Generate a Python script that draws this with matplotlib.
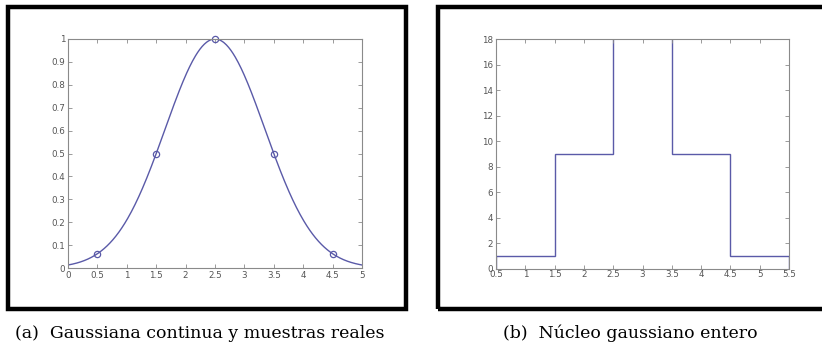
import numpy as np
import matplotlib
matplotlib.use("Agg")
import matplotlib.pyplot as plt
from matplotlib.patches import Rectangle

# (a) samples of the gaussian at the pixel centres
sample_x = [0.5, 1.5, 2.5, 3.5, 4.5]
sample_y = [0.0625, 0.5, 1.0, 0.5, 0.0625]
mu = 2.5
sigma = 0.849          # curve passes through 0.5 at +-1
x_range_a = (0, 5)

# (b) integer kernel drawn as steps (centre value goes off the top)
step_edges = [0.5, 1.5, 2.5, 3.5, 4.5, 5.5]
step_vals = [1, 9, 20, 9, 1]

xticks_a = np.arange(0, 5.01, 0.5)
yticks_a = np.arange(0, 1.01, 0.1)
xticks_b = np.arange(0.5, 5.51, 0.5)
yticks_b = np.arange(0, 18.1, 2)

captions = ["(a)  Gaussiana continua y muestras reales",
            "(b)  Núcleo gaussiano entero"]

W, H = 822, 347
line_col = "#5a5aa8"
spine_col = "#8a8a8a"
tick_col = "#555555"

fig = plt.figure(figsize=(W / 100, H / 100), dpi=100)


def px_axes(x0, y0, x1, y1):
    return fig.add_axes([x0 / W, 1 - y1 / H, (x1 - x0) / W, (y1 - y0) / H])


def style(ax):
    for s in ax.spines.values():
        s.set_color(spine_col)
        s.set_linewidth(0.8)
    ax.tick_params(direction="in", top=True, right=True, length=3,
                   width=0.6, color=spine_col, labelsize=6.3,
                   labelcolor=tick_col, pad=2)


def fmt(v):
    return f"{v:g}"


# frames
fig.patches.append(Rectangle((8 / W, 1 - 308.5 / H), (406 - 8) / W, (308.5 - 7) / H,
                             transform=fig.transFigure, fill=False,
                             edgecolor="black", linewidth=3.2))
fig.patches.append(Rectangle((438 / W, 1 - 308.5 / H), (840 - 438) / W, (308.5 - 7) / H,
                             transform=fig.transFigure, fill=False,
                             edgecolor="black", linewidth=3.2, clip_on=False))

# (a)
ax1 = px_axes(68, 39, 362, 268)
xs = np.linspace(x_range_a[0], x_range_a[1], 400)
ax1.plot(xs, np.exp(-(xs - mu) ** 2 / (2 * sigma ** 2)), color=line_col, lw=1.0)
ax1.plot(sample_x, sample_y, "o", mfc="none", mec=line_col, ms=4.5, mew=0.9,
         clip_on=False)
ax1.set_xlim(*x_range_a)
ax1.set_ylim(0, 1)
ax1.set_xticks(xticks_a)
ax1.set_xticklabels([fmt(v) for v in xticks_a])
ax1.set_yticks(yticks_a)
ax1.set_yticklabels([fmt(round(v, 1)) for v in yticks_a])
style(ax1)

# (b)
ax2 = px_axes(496, 39, 789, 269)
ax2.stairs(step_vals, step_edges, color=line_col, lw=1.0)
ax2.set_xlim(0.5, 5.5)
ax2.set_ylim(0, 18)
ax2.set_xticks(xticks_b)
ax2.set_xticklabels([fmt(v) for v in xticks_b])
ax2.set_yticks(yticks_b)
ax2.set_yticklabels([fmt(v) for v in yticks_b])
style(ax2)
ax2.tick_params(axis="x", pad=1)

# captions
fig.text(15 / W, 1 - 338 / H, captions[0], fontsize=12.5,
         family="DejaVu Serif", ha="left", va="baseline")
fig.text(503 / W, 1 - 338 / H, captions[1], fontsize=12.5,
         family="DejaVu Serif", ha="left", va="baseline")

fig.savefig("out.png", dpi=100)
